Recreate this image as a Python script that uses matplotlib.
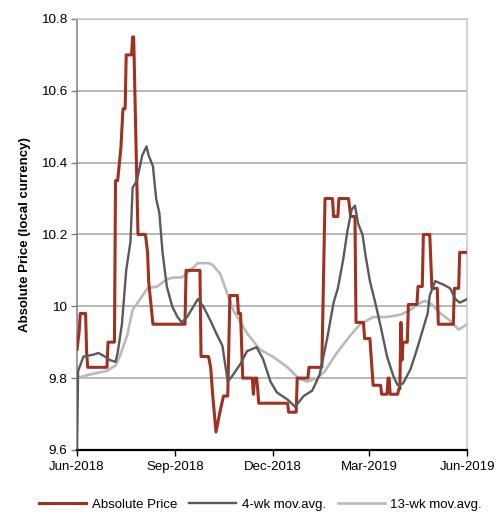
import pandas as pd
import matplotlib.pyplot as plt
from matplotlib.ticker import FuncFormatter

plt.rcParams['font.family'] = ['Liberation Sans', 'DejaVu Sans']

# absolute price (corner points of the step-like series)
price_dates = ['2018-06-01', '2018-06-03', '2018-06-04', '2018-06-09', '2018-06-10', '2018-06-11',
               '2018-06-29', '2018-06-30', '2018-07-06', '2018-07-07', '2018-07-09', '2018-07-12',
               '2018-07-14', '2018-07-16', '2018-07-17', '2018-07-22', '2018-07-23', '2018-07-24',
               '2018-07-28', '2018-08-04', '2018-08-06', '2018-08-07', '2018-08-11', '2018-09-10',
               '2018-09-11', '2018-09-24', '2018-09-25', '2018-10-02', '2018-10-04', '2018-10-06',
               '2018-10-09', '2018-10-13', '2018-10-16', '2018-10-20', '2018-10-22', '2018-10-29',
               '2018-10-30', '2018-11-01', '2018-11-03', '2018-11-12', '2018-11-13', '2018-11-14',
               '2018-11-16', '2018-11-17', '2018-11-18', '2018-12-15', '2018-12-16', '2018-12-23',
               '2018-12-24', '2019-01-03', '2019-01-04', '2019-01-16', '2019-01-19', '2019-01-26',
               '2019-01-27', '2019-01-31', '2019-02-01', '2019-02-10', '2019-02-12', '2019-02-16',
               '2019-02-17', '2019-02-24', '2019-02-25', '2019-03-02', '2019-03-05', '2019-03-12',
               '2019-03-13', '2019-03-18', '2019-03-19', '2019-03-20', '2019-03-21', '2019-03-28',
               '2019-03-29', '2019-03-30', '2019-03-31', '2019-04-01', '2019-04-02', '2019-04-06',
               '2019-04-07', '2019-04-15', '2019-04-16', '2019-04-20', '2019-04-21', '2019-04-27',
               '2019-04-29', '2019-05-04', '2019-05-05', '2019-05-19', '2019-05-20', '2019-05-24',
               '2019-05-25', '2019-06-01']
price = [9.88, 9.93, 9.98, 9.98, 9.87, 9.83,
         9.83, 9.90, 9.90, 10.35, 10.35, 10.44,
         10.55, 10.55, 10.70, 10.70, 10.75, 10.75,
         10.20, 10.20, 10.15, 10.07, 9.95, 9.95,
         10.10, 10.10, 9.86, 9.86, 9.83, 9.75,
         9.65, 9.71, 9.75, 9.75, 10.03, 10.03,
         9.98, 9.98, 9.80, 9.80, 9.755, 9.80,
         9.80, 9.77, 9.73, 9.73, 9.705, 9.705,
         9.80, 9.80, 9.83, 9.83, 10.30, 10.30,
         10.25, 10.25, 10.30, 10.30, 10.25, 10.25,
         9.955, 9.955, 9.91, 9.91, 9.78, 9.78,
         9.755, 9.755, 9.80, 9.80, 9.755, 9.755,
         9.77, 9.77, 9.955, 9.85, 9.90, 9.90,
         10.005, 10.005, 10.055, 10.055, 10.20, 10.20,
         10.05, 10.05, 9.95, 9.95, 10.05, 10.05,
         10.15, 10.15]

ma4_dates = ['2018-06-01', '2018-06-02', '2018-06-07', '2018-06-16', '2018-06-21', '2018-06-27',
             '2018-07-02', '2018-07-07', '2018-07-09', '2018-07-13', '2018-07-17', '2018-07-21',
             '2018-07-23', '2018-07-27', '2018-08-01', '2018-08-05', '2018-08-07', '2018-08-11',
             '2018-08-14', '2018-08-17', '2018-08-20', '2018-08-24', '2018-08-29', '2018-09-03',
             '2018-09-07', '2018-09-12', '2018-09-18', '2018-09-22', '2018-09-27', '2018-10-03',
             '2018-10-10', '2018-10-15', '2018-10-20', '2018-10-24', '2018-11-01', '2018-11-07',
             '2018-11-16', '2018-11-22', '2018-11-29', '2018-12-05', '2018-12-15', '2018-12-22',
             '2018-12-30', '2019-01-07', '2019-01-14', '2019-01-21', '2019-01-27', '2019-01-31',
             '2019-02-05', '2019-02-09', '2019-02-13', '2019-02-16', '2019-02-19', '2019-02-23',
             '2019-02-26', '2019-03-02', '2019-03-07', '2019-03-12', '2019-03-18', '2019-03-24',
             '2019-03-28', '2019-04-02', '2019-04-09', '2019-04-15', '2019-04-20', '2019-04-25',
             '2019-04-27', '2019-05-02', '2019-05-10', '2019-05-16', '2019-05-21', '2019-05-25',
             '2019-06-01']
ma4 = [9.60, 9.82, 9.86, 9.865, 9.87, 9.86,
       9.85, 9.845, 9.87, 9.95, 10.10, 10.18,
       10.33, 10.35, 10.42, 10.445, 10.42, 10.39,
       10.30, 10.26, 10.15, 10.055, 10.0, 9.97,
       9.955, 9.97, 10.0, 10.02, 10.0, 9.965,
       9.92, 9.89, 9.79, 9.805, 9.84, 9.875,
       9.886, 9.853, 9.79, 9.76, 9.74, 9.72,
       9.75, 9.765, 9.81, 9.91, 10.01, 10.05,
       10.13, 10.21, 10.27, 10.28, 10.23, 10.20,
       10.14, 10.07, 10.01, 9.945, 9.86, 9.805,
       9.78, 9.785, 9.825, 9.88, 9.93, 9.98,
       10.03, 10.07, 10.06, 10.05, 10.02, 10.01,
       10.02]

ma13_dates = ['2018-06-01', '2018-06-13', '2018-06-29', '2018-07-07', '2018-07-11', '2018-07-18',
              '2018-07-23', '2018-07-30', '2018-08-06', '2018-08-15', '2018-08-24', '2018-08-30',
              '2018-09-07', '2018-09-15', '2018-09-22', '2018-10-02', '2018-10-06', '2018-10-13',
              '2018-10-19', '2018-10-25', '2018-11-01', '2018-11-07', '2018-11-19', '2018-12-01',
              '2018-12-15', '2018-12-25', '2019-01-02', '2019-01-12', '2019-01-19', '2019-01-30',
              '2019-02-12', '2019-02-21', '2019-03-05', '2019-03-18', '2019-03-31', '2019-04-09',
              '2019-04-18', '2019-04-23', '2019-04-29', '2019-05-07', '2019-05-16', '2019-05-24',
              '2019-06-01']
ma13 = [9.80, 9.81, 9.82, 9.835, 9.86, 9.92,
        9.99, 10.02, 10.05, 10.055, 10.075, 10.08,
        10.08, 10.10, 10.12, 10.12, 10.115, 10.09,
        10.04, 9.99, 9.955, 9.925, 9.88, 9.86,
        9.83, 9.80, 9.79, 9.80, 9.82, 9.87,
        9.92, 9.95, 9.97, 9.97, 9.977, 9.99,
        10.01, 10.015, 10.005, 9.98, 9.96, 9.935,
        9.95]

tick_dates = ['2018-06-01', '2018-09-01', '2018-12-01', '2019-03-01', '2019-06-01']
tick_labels = ['Jun-2018', 'Sep-2018', 'Dec-2018', 'Mar-2019', 'Jun-2019']

red = '#a0301f'
dark = '#5a5a5a'
light = '#bababa'

fig = plt.figure(figsize=(4.97, 5.13), dpi=100)
ax = fig.add_axes([0.155, 0.123, 0.785, 0.84])

ax.plot(pd.to_datetime(price_dates), price, color=red, lw=2.2, label='Absolute Price',
        zorder=3, solid_joinstyle='round')
ax.plot(pd.to_datetime(ma4_dates), ma4, color=dark, lw=1.7, label='4-wk mov.avg.',
        zorder=4, solid_joinstyle='round')
ax.plot(pd.to_datetime(ma13_dates), ma13, color=light, lw=1.9, label='13-wk mov.avg.',
        zorder=2, solid_joinstyle='round')

ax.set_xlim(pd.Timestamp('2018-06-01'), pd.Timestamp('2019-06-01'))
ax.set_ylim(9.6, 10.8)
ax.set_yticks([9.6, 9.8, 10.0, 10.2, 10.4, 10.6, 10.8])
ax.yaxis.set_major_formatter(FuncFormatter(lambda v, p: ('%.1f' % v).rstrip('0').rstrip('.')))
ax.set_xticks(pd.to_datetime(tick_dates))
ax.set_xticklabels(tick_labels)

ax.grid(axis='y', color='#a6a6a6', lw=1.1)
ax.set_axisbelow(True)
for s in ['top', 'right']:
    ax.spines[s].set_color('#c8c8c8')
    ax.spines[s].set_linewidth(1.1)
ax.spines['left'].set_color('#808080')
ax.spines['left'].set_linewidth(1.1)
ax.spines['bottom'].set_color('black')
ax.spines['bottom'].set_linewidth(1.6)
ax.tick_params(axis='y', length=4, width=1, color='#808080', labelsize=9.7, pad=3)
ax.tick_params(axis='x', length=4, width=1, color='black', labelsize=9.5, pad=4)

ax.set_ylabel('Absolute Price (local currency)', fontsize=9.5, fontweight='bold', labelpad=7)

ax.legend(loc='upper center', bbox_to_anchor=(0.47, -0.085), ncol=3, frameon=False,
          fontsize=9.5, handlelength=3.6, columnspacing=0.9, handletextpad=0.4)

fig.savefig('out.png', dpi=100)
